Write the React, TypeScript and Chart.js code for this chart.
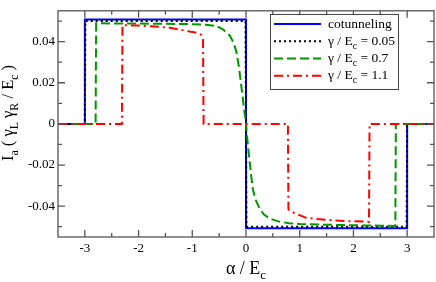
import React, { useEffect, useRef } from "react";
import { Chart, registerables } from "chart.js";

Chart.register(...registerables);

const FONT = '"Liberation Serif", "Times New Roman", serif';

// ---- data ----
const xCotunneling = [-3.5, -3.0, -3.0, 0.0, 0.0, 3.0, 3.0, 3.5];
const yCotunneling = [0, 0, 0.0508, 0.0508, -0.0508, -0.0508, 0, 0];

const xGamma005 = [-3.5, -3.0, -2.99, -0.01, 0.01, 2.99, 3.0, 3.5];
const yGamma005 = [0, 0, 0.0500, 0.0500, -0.0500, -0.0500, 0, 0];

const xGamma07 = [
  -3.5, -2.8, -2.79, -2.0, -1.5, -1.0, -0.75, -0.55, -0.43, -0.3, -0.24, -0.18, -0.13, -0.086, -0.043, 0,
  0.03, 0.07, 0.1, 0.13, 0.18, 0.25, 0.33, 0.44, 0.6, 0.8, 1.0, 1.4, 2.0, 2.5, 2.78, 2.79, 3.5,
];
const yGamma07 = [
  0, 0, 0.0489, 0.0488, 0.0487, 0.0485, 0.0482, 0.0476, 0.046, 0.0429, 0.0399, 0.0352, 0.0274, 0.0181, 0.0088, 0,
  -0.009, -0.019, -0.026, -0.032, -0.037, -0.041, -0.044, -0.046, -0.0474, -0.0483, -0.0487, -0.049, -0.0493, -0.0495, -0.0496, 0, 0,
];

const xGamma11 = [
  -3.5, -2.31, -2.3, -2.0, -1.79, -1.42, -1.05, -0.89, -0.83, -0.8, -0.79,
  0.78, 0.79, 0.81, 1.12, 1.5, 1.87, 2.2, 2.29, 2.3, 3.5,
];
const yGamma11 = [
  0, 0, 0.048, 0.0478, 0.0475, 0.0468, 0.0449, 0.0442, 0.0432, 0.041, 0,
  0, -0.0415, -0.0423, -0.0457, -0.0467, -0.0473, -0.0475, -0.0477, 0, 0,
];

const xMajorTicks = [-3, -2, -1, 0, 1, 2, 3];
const xMinorTicks = [-2.5, -1.5, -0.5, 0.5, 1.5, 2.5];
const yMajorTicks = [-0.04, -0.02, 0, 0.02, 0.04];
const yMinorTicks = [-0.05, -0.03, -0.01, 0.01, 0.03, 0.05];

const legendLabels = ["cotunneling", "γ / E_c = 0.05", "γ / E_c = 0.7", "γ / E_c = 1.1"];
const xTitle = "α / E_c";
const yTitle = "I_a ( γ_L γ_R / E_c )";

const colors = ["rgb(0,0,255)", "rgb(0,0,0)", "rgb(0,150,0)", "rgb(255,0,0)"];
const dashes: number[][] = [[], [2, 3], [9, 4], [9, 4, 2, 4]];

// ---- helpers ----
type Seg = { t: string; sub: boolean };
function parseRich(s: string): Seg[] {
  const out: Seg[] = [];
  let buf = "";
  for (let i = 0; i < s.length; i++) {
    if (s[i] === "_" && i + 1 < s.length) {
      if (buf) out.push({ t: buf, sub: false });
      buf = "";
      out.push({ t: s[i + 1], sub: true });
      i++;
    } else buf += s[i];
  }
  if (buf) out.push({ t: buf, sub: false });
  return out;
}
function drawRich(ctx: CanvasRenderingContext2D, text: string, x: number, y: number, size: number, center: boolean) {
  const segs = parseRich(text);
  const subSize = size * 0.72;
  let w = 0;
  for (const s of segs) {
    ctx.font = `${s.sub ? subSize : size}px ${FONT}`;
    w += ctx.measureText(s.t).width;
  }
  let cx = center ? x - w / 2 : x;
  ctx.textAlign = "left";
  ctx.textBaseline = "alphabetic";
  for (const s of segs) {
    ctx.font = `${s.sub ? subSize : size}px ${FONT}`;
    ctx.fillText(s.t, cx, s.sub ? y + size * 0.28 : y);
    cx += ctx.measureText(s.t).width;
  }
}

const decorPlugin = {
  id: "decor",
  afterDatasetsDraw(chart: any) {
    const ctx: CanvasRenderingContext2D = chart.ctx;
    const { left, right, top, bottom } = chart.chartArea;
    const xs = chart.scales.x;
    const ys = chart.scales.y;
    ctx.save();
    // frame
    ctx.strokeStyle = "#555";
    ctx.lineWidth = 1.3;
    ctx.strokeRect(left, top, right - left, bottom - top);
    // ticks inward
    const tick = (vals: number[], len: number, axis: "x" | "y") => {
      ctx.beginPath();
      for (const v of vals) {
        if (axis === "x") {
          const p = xs.getPixelForValue(v);
          ctx.moveTo(p, bottom); ctx.lineTo(p, bottom - len);
          ctx.moveTo(p, top); ctx.lineTo(p, top + len);
        } else {
          const p = ys.getPixelForValue(v);
          ctx.moveTo(left, p); ctx.lineTo(left + len, p);
          ctx.moveTo(right, p); ctx.lineTo(right - len, p);
        }
      }
      ctx.stroke();
    };
    tick(xMajorTicks, 7, "x");
    tick(xMinorTicks, 4, "x");
    tick(yMajorTicks, 7, "y");
    tick(yMinorTicks, 4, "y");

    // legend
    const bx = 270.5, by = 14.5, bw = 128, bh = 75;
    ctx.fillStyle = "#fff";
    ctx.fillRect(bx, by, bw, bh);
    ctx.strokeStyle = "#444";
    ctx.lineWidth = 1;
    ctx.strokeRect(bx, by, bw, bh);
    const rows = [24, 41.3, 58.5, 75.8];
    legendLabels.forEach((lab, i) => {
      const yy = rows[i];
      ctx.beginPath();
      ctx.strokeStyle = colors[i];
      ctx.lineWidth = 2;
      ctx.setLineDash(dashes[i]);
      ctx.moveTo(274, yy);
      ctx.lineTo(321, yy);
      ctx.stroke();
      ctx.setLineDash([]);
      ctx.fillStyle = "#000";
      drawRich(ctx, lab, 328, yy + 3.5, 13.5, false);
    });

    // axis titles
    ctx.fillStyle = "#000";
    drawRich(ctx, xTitle, (left + right) / 2, 274, 18, true);
    ctx.save();
    ctx.translate(13, 113);
    ctx.rotate(-Math.PI / 2);
    drawRich(ctx, yTitle, 0, 0, 16.5, true);
    ctx.restore();
    ctx.restore();
  },
};

function toPts(xs: number[], ys: number[]) {
  return xs.map((x, i) => ({ x, y: ys[i] }));
}

export default function App() {
  const ref = useRef<HTMLCanvasElement>(null);
  useEffect(() => {
    document.body.style.margin = "0";
    const canvas = ref.current!;
    const series = [
      toPts(xCotunneling, yCotunneling),
      toPts(xGamma005, yGamma005),
      toPts(xGamma07, yGamma07),
      toPts(xGamma11, yGamma11),
    ];
    const chart = new Chart(canvas, {
      type: "line",
      data: {
        datasets: series.map((d, i) => ({
          label: legendLabels[i],
          data: d,
          borderColor: colors[i],
          backgroundColor: colors[i],
          borderWidth: 2,
          borderDash: dashes[i],
          pointRadius: 0,
          fill: false,
          tension: 0,
          order: 4 - i,
        })),
      },
      options: {
        animation: false,
        responsive: false,
        devicePixelRatio: 1,
        layout: { padding: { left: 0, top: 1, right: 2, bottom: 0 } },
        plugins: { legend: { display: false }, tooltip: { enabled: false } },
        scales: {
          x: {
            type: "linear",
            min: -3.5,
            max: 3.5,
            grid: { display: false, drawTicks: false },
            border: { display: false },
            ticks: {
              autoSkip: false,
              maxRotation: 0,
              padding: 4,
              color: "#000",
              font: { family: FONT, size: 13 },
              callback: (v: any) => String(v),
            },
            afterBuildTicks: (s: any) => {
              s.ticks = xMajorTicks.map((v) => ({ value: v }));
            },
            afterFit: (s: any) => {
              s.height = 45;
            },
          },
          y: {
            type: "linear",
            min: -0.055,
            max: 0.055,
            grid: { display: false, drawTicks: false },
            border: { display: false },
            ticks: {
              autoSkip: false,
              padding: 3,
              color: "#000",
              font: { family: FONT, size: 13 },
              callback: (v: any) => (Math.abs(v) < 1e-9 ? "0" : Number(v).toFixed(2)),
            },
            afterBuildTicks: (s: any) => {
              s.ticks = yMajorTicks.map((v) => ({ value: v }));
            },
            afterFit: (s: any) => {
              s.width = 58;
            },
          },
        },
      },
      plugins: [decorPlugin],
    } as any);
    return () => chart.destroy();
  }, []);
  return <canvas ref={ref} width={436} height={282} style={{ display: "block", width: 436, height: 282 }} />;
}
